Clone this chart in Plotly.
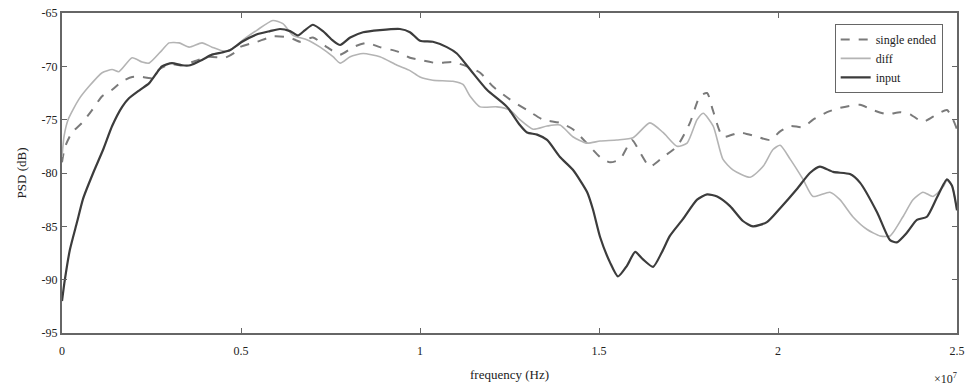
import plotly.graph_objects as go

# Frequency axis values are in units of 1e7 Hz (axis carries the x10^7 multiplier)
input_freq = [0, 0.008, 0.022, 0.042, 0.059, 0.087, 0.115, 0.140, 0.168, 0.187,
              0.218, 0.243, 0.265, 0.279, 0.307, 0.335, 0.358, 0.391, 0.419, 0.447,
              0.469, 0.503, 0.545, 0.581, 0.609, 0.637, 0.659, 0.679, 0.701, 0.729,
              0.757, 0.777, 0.805, 0.841, 0.888, 0.944, 0.972, 1.000, 1.036, 1.075,
              1.103, 1.140, 1.187, 1.243, 1.279, 1.299, 1.327, 1.355, 1.391, 1.427,
              1.467, 1.483, 1.503, 1.531, 1.553, 1.578, 1.601, 1.623, 1.651, 1.676,
              1.698, 1.735, 1.774, 1.802, 1.830, 1.866, 1.902, 1.930, 1.969, 2.006,
              2.053, 2.089, 2.117, 2.154, 2.201, 2.229, 2.277, 2.313, 2.332, 2.360,
              2.388, 2.416, 2.444, 2.472, 2.486, 2.500]
input_psd = [-92.0, -90.0, -87.2, -84.6, -82.4, -80.0, -77.8, -75.6, -73.8, -73.0,
             -72.2, -71.6, -70.6, -70.0, -69.7, -69.9, -69.9, -69.4, -68.9, -68.7,
             -68.5, -67.7, -67.0, -66.7, -66.5, -66.7, -67.1, -66.6, -66.1, -66.7,
             -67.6, -68.0, -67.3, -66.8, -66.6, -66.5, -66.8, -67.6, -67.7, -68.2,
             -68.8, -70.3, -72.2, -73.8, -75.5, -76.2, -76.4, -76.9, -78.5, -79.7,
             -81.8, -83.4, -86.0, -88.4, -89.7, -88.7, -87.4, -88.1, -88.8, -87.4,
             -85.9, -84.3, -82.5, -82.0, -82.2, -83.1, -84.5, -85.0, -84.6, -83.3,
             -81.5, -80.0, -79.4, -79.9, -80.1, -80.9, -83.7, -86.3, -86.5, -85.6,
             -84.4, -84.1, -82.3, -80.6, -81.2, -83.5]

diff_freq = [0, 0.006, 0.017, 0.047, 0.075, 0.112, 0.140, 0.159, 0.196, 0.224,
             0.243, 0.279, 0.299, 0.327, 0.355, 0.391, 0.419, 0.455, 0.483, 0.503,
             0.545, 0.589, 0.617, 0.645, 0.684, 0.721, 0.757, 0.777, 0.805, 0.841,
             0.888, 0.936, 0.972, 1.000, 1.036, 1.092, 1.120, 1.140, 1.168, 1.215,
             1.251, 1.279, 1.316, 1.355, 1.391, 1.427, 1.466, 1.503, 1.550, 1.595,
             1.642, 1.679, 1.718, 1.746, 1.774, 1.791, 1.819, 1.846, 1.874, 1.922,
             1.958, 1.986, 2.006, 2.034, 2.070, 2.098, 2.145, 2.173, 2.209, 2.249,
             2.285, 2.313, 2.349, 2.377, 2.405, 2.433, 2.461, 2.472, 2.486, 2.500]
diff_psd = [-78.5, -76.5, -75.0, -73.1, -71.9, -70.6, -70.3, -70.5, -69.2, -69.6,
            -69.7, -68.5, -67.8, -67.8, -68.2, -67.8, -68.2, -68.6, -68.2, -67.6,
            -66.6, -65.7, -66.0, -67.1, -67.5, -68.2, -69.1, -69.7, -69.1, -68.8,
            -69.1, -69.9, -70.4, -71.0, -71.3, -71.4, -71.7, -72.8, -73.8, -73.8,
            -74.1, -75.0, -75.9, -75.6, -75.5, -76.6, -77.2, -77.0, -76.9, -76.7,
            -75.3, -76.2, -77.5, -77.2, -75.0, -74.4, -75.6, -78.7, -79.7, -80.4,
            -79.4, -77.8, -77.4, -78.7, -80.6, -82.2, -81.8, -82.5, -84.1, -85.3,
            -85.9, -85.9, -84.1, -82.5, -81.8, -82.2, -81.3, -80.7, -81.2, -83.5]

se_freq = [0, 0.008, 0.028, 0.056, 0.084, 0.112, 0.140, 0.168, 0.196, 0.224,
           0.251, 0.271, 0.302, 0.335, 0.372, 0.411, 0.455, 0.483, 0.497, 0.545,
           0.589, 0.637, 0.665, 0.701, 0.740, 0.777, 0.813, 0.852, 0.888, 0.936,
           0.972, 1.000, 1.047, 1.092, 1.131, 1.168, 1.204, 1.251, 1.299, 1.344,
           1.391, 1.427, 1.466, 1.503, 1.531, 1.559, 1.592, 1.615, 1.642, 1.679,
           1.718, 1.754, 1.782, 1.802, 1.818, 1.846, 1.894, 1.941, 1.978, 2.006,
           2.034, 2.070, 2.098, 2.137, 2.173, 2.229, 2.265, 2.305, 2.341, 2.369,
           2.405, 2.444, 2.472, 2.489, 2.500]
se_psd = [-79.0, -77.6, -76.2, -75.3, -74.1, -72.8, -72.2, -71.4, -71.0, -71.0,
          -71.1, -70.3, -69.8, -69.9, -69.5, -69.1, -69.2, -68.7, -68.2, -67.7,
          -67.2, -67.3, -67.7, -67.3, -68.2, -68.9, -68.2, -67.8, -68.2, -68.6,
          -69.2, -69.4, -69.7, -69.6, -70.0, -70.6, -71.9, -73.1, -74.1, -75.0,
          -75.3, -75.9, -77.2, -78.5, -79.0, -78.7, -76.9, -78.1, -79.4, -78.5,
          -77.5, -75.3, -72.8, -72.5, -74.1, -76.6, -76.2, -76.6, -76.9, -76.1,
          -75.6, -75.7, -75.0, -74.3, -73.9, -73.6, -74.1, -74.5, -74.3, -74.5,
          -75.2, -74.5, -74.1, -75.0, -75.9]

x_ticks = [0, 0.5, 1, 1.5, 2, 2.5]
x_tick_labels = ["0", "0.5", "1", "1.5", "2", "2.5"]
y_ticks = [-95, -90, -85, -80, -75, -70, -65]
y_tick_labels = ["-95", "-90", "-85", "-80", "-75", "-70", "-65"]

FONT = "Liberation Serif, Times New Roman, serif"
AXIS_COLOR = "#666666"
TEXT_COLOR = "#222222"

fig = go.Figure()
fig.add_trace(go.Scatter(
    x=se_freq, y=se_psd, mode="lines", name="single ended",
    line=dict(color="#7a7a7a", width=2, dash="dash", shape="spline", smoothing=0.6)))
fig.add_trace(go.Scatter(
    x=diff_freq, y=diff_psd, mode="lines", name="diff",
    line=dict(color="#b4b4b4", width=1.6, shape="spline", smoothing=0.6)))
fig.add_trace(go.Scatter(
    x=input_freq, y=input_psd, mode="lines", name="input",
    line=dict(color="#3c3c3c", width=2.2, shape="spline", smoothing=0.6)))

axis_common = dict(
    showline=True, linecolor=AXIS_COLOR, linewidth=2, mirror="ticks",
    ticks="inside", ticklen=5, tickcolor=AXIS_COLOR, tickwidth=1,
    showgrid=False, zeroline=False, automargin=False,
    tickfont=dict(family=FONT, size=12, color=TEXT_COLOR),
)

fig.update_xaxes(range=[0, 2.5], tickvals=x_ticks, ticktext=x_tick_labels,
                 ticklabelstandoff=6,
                 title=dict(text="frequency (Hz)", standoff=12,
                            font=dict(family=FONT, size=13, color=TEXT_COLOR)),
                 **axis_common)
fig.update_yaxes(range=[-95, -65], tickvals=y_ticks, ticktext=y_tick_labels,
                 title=dict(text="PSD (dB)", standoff=12,
                            font=dict(family=FONT, size=13, color=TEXT_COLOR)),
                 **axis_common)

fig.add_annotation(x=1.0, y=0, xref="paper", yref="paper",
                   xanchor="right", yanchor="top", yshift=-36, xshift=2,
                   text="×10<sup>7</sup>", showarrow=False,
                   font=dict(family=FONT, size=12, color=TEXT_COLOR))

fig.update_layout(
    width=969, height=387,
    margin=dict(l=62, r=12, t=13, b=54),
    paper_bgcolor="white", plot_bgcolor="white",
    legend=dict(x=0.984, y=0.966, xanchor="right", yanchor="top",
                bordercolor=AXIS_COLOR, borderwidth=1, bgcolor="white",
                font=dict(family=FONT, size=12, color=TEXT_COLOR),
                tracegroupgap=0, itemwidth=30),
    showlegend=True,
)

fig.write_html("out.html")
